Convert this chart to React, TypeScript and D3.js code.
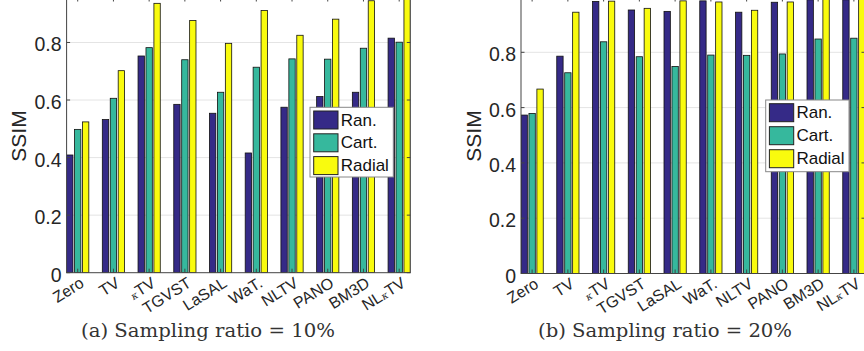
import React from "react";
import * as d3 from "d3";

// categories + series
const categories = ["Zero", "TV", "κTV", "TGVST", "LaSAL", "WaT.", "NLTV", "PANO", "BM3D", "NLκTV"];
const seriesNames = ["Ran.", "Cart.", "Radial"];
const seriesColors = ["#352a87", "#36b89d", "#f9fb0e"];
const yTicks = [0, 0.2, 0.4, 0.6, 0.8];

// sampling ratio 10%
const ran10 = [0.409, 0.532, 0.753, 0.585, 0.554, 0.416, 0.575, 0.612, 0.627, 0.815];
const cart10 = [0.498, 0.606, 0.782, 0.740, 0.627, 0.714, 0.743, 0.742, 0.780, 0.801];
const radial10 = [0.524, 0.702, 0.936, 0.876, 0.797, 0.911, 0.825, 0.881, 0.945, 0.960];

// sampling ratio 20%
const ran20 = [0.573, 0.786, 0.984, 0.953, 0.948, 0.986, 0.945, 0.981, 0.990, 0.990];
const cart20 = [0.579, 0.726, 0.838, 0.784, 0.749, 0.790, 0.789, 0.794, 0.848, 0.851];
const radial20 = [0.667, 0.945, 0.985, 0.959, 0.986, 0.982, 0.952, 0.982, 0.995, 0.998];

const sans = "'Liberation Sans', Arial, sans-serif";

const CatLabel = ({ name }) => {
  if (!name.includes("κ")) return <>{name}</>;
  const [a, b] = name.split("κ");
  return (
    <>
      {a}
      <tspan fontFamily="'DejaVu Serif', serif" fontStyle="italic" fontSize={10}>κ</tspan>
      {b}
    </>
  );
};

const Panel = ({ id, data, xRange, yMax, yRange, legend, caption, captionX, ssimX }) => {
  const x = d3.scaleLinear().domain([1 - 0.3111, categories.length + 0.3111]).range(xRange);
  const y = d3.scaleLinear().domain([0, yMax]).range(yRange);
  const [x0, x1] = xRange;
  const yBottom = y(0);
  const yTop = y(yMax);
  const off = 0.2222;
  const bw = 0.1778;

  return (
    <g>
      <defs>
        <clipPath id={`clip-${id}`}>
          <rect x={x0} y={yTop} width={x1 - x0} height={yBottom - yTop} />
        </clipPath>
      </defs>
      {/* grid */}
      {yTicks.filter((t) => t > 0).map((t) => (
        <line key={t} x1={x0} x2={x1} y1={y(t)} y2={y(t)} stroke="#e4e4e4" strokeWidth={1} />
      ))}
      {/* bars */}
      <g clipPath={`url(#clip-${id})`}>
        {data.map((vals, j) =>
          vals.map((v, i) => {
            const cx = i + 1 + (j - 1) * off;
            const left = x(cx - bw / 2);
            const right = x(cx + bw / 2);
            return (
              <rect
                key={`${j}-${i}`}
                x={left}
                y={y(v)}
                width={right - left}
                height={yBottom - y(v)}
                fill={seriesColors[j]}
                stroke="#111"
                strokeWidth={0.8}
              />
            );
          })
        )}
      </g>
      {/* axes box */}
      <rect x={x0} y={yTop} width={x1 - x0} height={yBottom - yTop} fill="none" stroke="#444" strokeWidth={1} />
      {categories.map((c, i) => (
        <g key={c}>
          <line x1={x(i + 1)} x2={x(i + 1)} y1={yTop} y2={yTop + 4.5} stroke="#444" />
          <line x1={x(i + 1)} x2={x(i + 1)} y1={yBottom} y2={yBottom - 4} stroke="#444" />
        </g>
      ))}
      {yTicks.map((t) => (
        <g key={t}>
          <line x1={x0} x2={x0 + 3.5} y1={y(t)} y2={y(t)} stroke="#444" />
          <line x1={x1} x2={x1 - 3.5} y1={y(t)} y2={y(t)} stroke="#444" />
          <text
            x={x0 - 5}
            y={y(t) + 2}
            textAnchor="end"
            dominantBaseline="central"
            fontFamily={sans}
            fontSize={19.5}
            fill="#262626"
          >
            {t === 0 ? "0" : t.toFixed(1)}
          </text>
        </g>
      ))}
      {/* x tick labels */}
      {categories.map((c, i) => (
        <text
          key={c}
          transform={`translate(${x(i + 1) + 1},${yBottom + 3}) rotate(-32)`}
          textAnchor="end"
          dy="0.75em"
          fontFamily={sans}
          fontSize={16}
          fill="#262626"
        >
          <CatLabel name={c} />
        </text>
      ))}
      <text
        transform={`translate(${ssimX},${136}) rotate(-90)`}
        textAnchor="middle"
        dominantBaseline="central"
        fontFamily={sans}
        fontSize={21}
        fill="#262626"
      >
        SSIM
      </text>
      {/* legend */}
      <g transform={`translate(${legend.x},${legend.y})`}>
        <rect width={83.3} height={legend.h} fill="#fff" stroke="#888" strokeWidth={1} />
        {seriesNames.map((s, j) => (
          <g key={s} transform={`translate(3.7,${3.7 + j * legend.step})`}>
            <rect width={24.3} height={18} fill={seriesColors[j]} stroke="#222" strokeWidth={1} />
            <text x={27} y={9} dominantBaseline="central" fontFamily={sans} fontSize={17} fill="#111">
              {s}
            </text>
          </g>
        ))}
      </g>
      <text
        x={captionX}
        y={337}
        textAnchor="middle"
        fontFamily="'DejaVu Serif', serif"
        fontSize={19}
        textLength={254}
        lengthAdjust="spacingAndGlyphs"
        fill="#333"
      >
        {caption}
      </text>
    </g>
  );
};

export default function App() {
  return (
    <svg width={864} height={351} style={{ position: "absolute", left: 0, top: 0, background: "#fff" }}>
      <Panel
        id="a"
        data={[ran10, cart10, radial10]}
        xRange={[66.6, 410.3]}
        yMax={0.958}
        yRange={[272.7, -3]}
        legend={{ x: 310, y: 107.3, h: 69.7, step: 22.8 }}
        caption="(a) Sampling ratio = 10%"
        captionX={208}
        ssimX={18}
      />
      <Panel
        id="b"
        data={[ran20, cart20, radial20]}
        xRange={[521, 865]}
        yMax={1}
        yRange={[273.5, -3]}
        legend={{ x: 765.7, y: 100, h: 71.7, step: 23 }}
        caption="(b) Sampling ratio = 20%"
        captionX={665}
        ssimX={473}
      />
    </svg>
  );
}
